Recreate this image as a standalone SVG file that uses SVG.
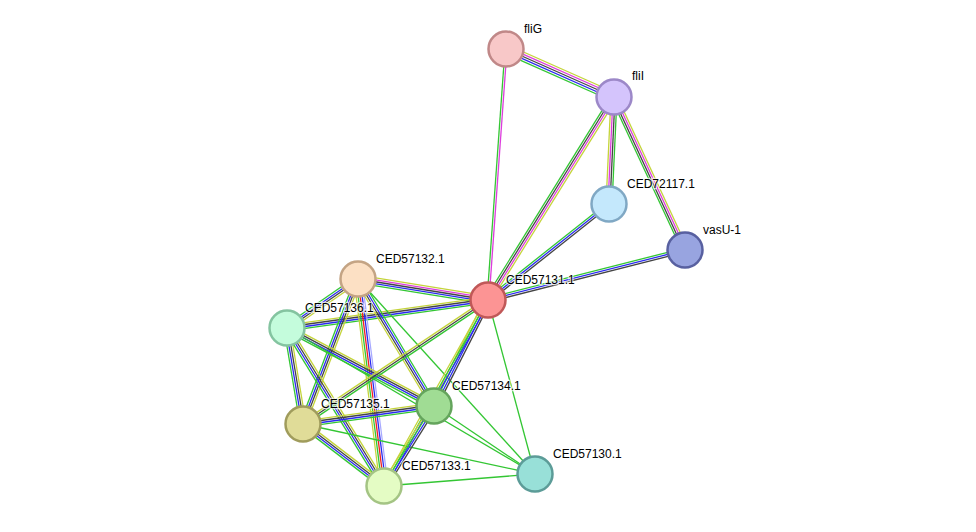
<svg xmlns="http://www.w3.org/2000/svg" width="976" height="532" viewBox="0 0 976 532">
<style>
line{stroke-width:1.3;fill:none}
.g{stroke:#33c633}.y{stroke:#c4d43a}.m{stroke:#dd3cdd}.k{stroke:#444}.b{stroke:#2a2af0}.r{stroke:#f02020}.h{stroke:#a8aaff}
circle{stroke-width:2.5}
text{font-family:"Liberation Sans",Arial,sans-serif;font-size:12px;fill:#000;paint-order:stroke;stroke:#fff;stroke-width:2.5;stroke-opacity:0.7}
</style>
<rect width="976" height="532" fill="#fff"/>
<g id="edges">
<!-- fliG-fliI -->
<line class="y" x1="506" y1="49" x2="614" y2="97" transform="translate(1.79,-4.02)"/>
<line class="m" x1="506" y1="49" x2="614" y2="97" transform="translate(0.89,-2.01)"/>
<line class="k" x1="506" y1="49" x2="614" y2="97"/>
<line class="b" x1="506" y1="49" x2="614" y2="97" transform="translate(-0.89,2.01)"/>
<line class="g" x1="506" y1="49" x2="614" y2="97" transform="translate(-1.79,4.02)"/>
<!-- fliG-A -->
<line class="g" x1="506" y1="49" x2="488" y2="300" transform="translate(-1,0)"/>
<line class="m" x1="506" y1="49" x2="488" y2="300" transform="translate(1,0)"/>
<!-- fliI-A -->
<line class="g" x1="614" y1="97" x2="488" y2="300" transform="translate(-2.55,-1.58)"/>
<line class="k" x1="614" y1="97" x2="488" y2="300" transform="translate(-0.85,-0.53)"/>
<line class="m" x1="614" y1="97" x2="488" y2="300" transform="translate(0.85,0.53)"/>
<line class="y" x1="614" y1="97" x2="488" y2="300" transform="translate(2.55,1.58)"/>
<!-- fliI-X -->
<line class="y" x1="614" y1="97" x2="609" y2="204" transform="translate(-3,-0.14)"/>
<line class="m" x1="614" y1="97" x2="609" y2="204" transform="translate(-1,0)"/>
<line class="k" x1="614" y1="97" x2="609" y2="204" transform="translate(1,0)"/>
<line class="g" x1="614" y1="97" x2="609" y2="204" transform="translate(3,0.14)"/>
<!-- fliI-V -->
<line class="g" x1="614" y1="97" x2="685" y2="250" transform="translate(-2.72,1.26)"/>
<line class="k" x1="614" y1="97" x2="685" y2="250" transform="translate(-0.91,0.42)"/>
<line class="m" x1="614" y1="97" x2="685" y2="250" transform="translate(0.91,-0.42)"/>
<line class="y" x1="614" y1="97" x2="685" y2="250" transform="translate(2.72,-1.26)"/>
<!-- X-A -->
<line class="g" x1="609" y1="204" x2="488" y2="300" transform="translate(-1.24,-1.57)"/>
<line class="b" x1="609" y1="204" x2="488" y2="300"/>
<line class="k" x1="609" y1="204" x2="488" y2="300" transform="translate(1.24,1.57)"/>
<!-- V-A -->
<line class="g" x1="685" y1="250" x2="488" y2="300" transform="translate(-0.49,-1.94)"/>
<line class="b" x1="685" y1="250" x2="488" y2="300"/>
<line class="k" x1="685" y1="250" x2="488" y2="300" transform="translate(0.49,1.94)"/>
<!-- P-A -->
<line class="y" x1="358" y1="279" x2="488" y2="300" transform="translate(0.64,-3.95)"/>
<line class="m" x1="358" y1="279" x2="488" y2="300" transform="translate(0.32,-1.97)"/>
<line class="k" x1="358" y1="279" x2="488" y2="300"/>
<line class="b" x1="358" y1="279" x2="488" y2="300" transform="translate(-0.32,1.97)"/>
<line class="g" x1="358" y1="279" x2="488" y2="300" transform="translate(-0.64,3.95)"/>
<!-- S-A -->
<line class="y" x1="287" y1="328" x2="488" y2="300" transform="translate(-0.41,-2.97)"/>
<line class="k" x1="287" y1="328" x2="488" y2="300" transform="translate(-0.14,-0.99)"/>
<line class="b" x1="287" y1="328" x2="488" y2="300" transform="translate(0.14,0.99)"/>
<line class="g" x1="287" y1="328" x2="488" y2="300" transform="translate(0.41,2.97)"/>
<!-- P-S -->
<line class="g" x1="358" y1="279" x2="287" y2="328" transform="translate(-1.70,-2.47)"/>
<line class="b" x1="358" y1="279" x2="287" y2="328" transform="translate(-0.57,-0.82)"/>
<line class="k" x1="358" y1="279" x2="287" y2="328" transform="translate(0.57,0.82)"/>
<line class="y" x1="358" y1="279" x2="287" y2="328" transform="translate(1.70,2.47)"/>
<!-- P-T -->
<line class="g" x1="358" y1="279" x2="303" y2="424" transform="translate(-2.80,-1.06)"/>
<line class="b" x1="358" y1="279" x2="303" y2="424" transform="translate(-0.93,-0.35)"/>
<line class="k" x1="358" y1="279" x2="303" y2="424" transform="translate(0.93,0.35)"/>
<line class="y" x1="358" y1="279" x2="303" y2="424" transform="translate(2.80,1.06)"/>
<!-- P-Q -->
<line class="y" x1="358" y1="279" x2="384" y2="486" transform="translate(-3.97,0.5)"/>
<line class="g" x1="358" y1="279" x2="384" y2="486" transform="translate(-1.98,0.25)"/>
<line class="r" x1="358" y1="279" x2="384" y2="486"/>
<line class="b" x1="358" y1="279" x2="384" y2="486" transform="translate(1.98,-0.25)"/>
<line class="h" x1="358" y1="279" x2="384" y2="486" transform="translate(3.97,-0.5)"/>
<!-- P-K -->
<line class="y" x1="358" y1="279" x2="434" y2="406" transform="translate(-2.57,1.54)"/>
<line class="k" x1="358" y1="279" x2="434" y2="406" transform="translate(-0.86,0.51)"/>
<line class="b" x1="358" y1="279" x2="434" y2="406" transform="translate(0.86,-0.51)"/>
<line class="g" x1="358" y1="279" x2="434" y2="406" transform="translate(2.57,-1.54)"/>
<!-- P-Z -->
<line class="g" x1="358" y1="279" x2="535" y2="474"/>
<!-- S-K -->
<line class="y" x1="287" y1="328" x2="434" y2="406" transform="translate(1.41,-2.65)"/>
<line class="k" x1="287" y1="328" x2="434" y2="406" transform="translate(0.47,-0.88)"/>
<line class="b" x1="287" y1="328" x2="434" y2="406" transform="translate(-0.47,0.88)"/>
<line class="g" x1="287" y1="328" x2="434" y2="406" transform="translate(-1.41,2.65)"/>
<!-- S-T -->
<line class="g" x1="287" y1="328" x2="303" y2="424" transform="translate(-2.96,0.49)"/>
<line class="b" x1="287" y1="328" x2="303" y2="424" transform="translate(-0.99,0.16)"/>
<line class="k" x1="287" y1="328" x2="303" y2="424" transform="translate(0.99,-0.16)"/>
<line class="y" x1="287" y1="328" x2="303" y2="424" transform="translate(2.96,-0.49)"/>
<!-- S-Q -->
<line class="g" x1="287" y1="328" x2="384" y2="486" transform="translate(-2.56,1.57)"/>
<line class="b" x1="287" y1="328" x2="384" y2="486" transform="translate(-0.85,0.52)"/>
<line class="k" x1="287" y1="328" x2="384" y2="486" transform="translate(0.85,-0.52)"/>
<line class="y" x1="287" y1="328" x2="384" y2="486" transform="translate(2.56,-1.57)"/>
<!-- S-Z -->
<line class="g" x1="287" y1="328" x2="535" y2="474"/>
<!-- A-K -->
<line class="y" x1="488" y1="300" x2="434" y2="406" transform="translate(-2.67,-1.36)"/>
<line class="g" x1="488" y1="300" x2="434" y2="406" transform="translate(-0.89,-0.45)"/>
<line class="b" x1="488" y1="300" x2="434" y2="406" transform="translate(0.89,0.45)"/>
<line class="k" x1="488" y1="300" x2="434" y2="406" transform="translate(2.67,1.36)"/>
<!-- A-T -->
<line class="y" x1="488" y1="300" x2="303" y2="424" transform="translate(-1.11,-1.66)"/>
<line class="k" x1="488" y1="300" x2="303" y2="424"/>
<line class="g" x1="488" y1="300" x2="303" y2="424" transform="translate(1.11,1.66)"/>
<!-- A-Q -->
<line class="y" x1="488" y1="300" x2="384" y2="486" transform="translate(-1.75,-0.98)"/>
<line class="g" x1="488" y1="300" x2="384" y2="486"/>
<line class="b" x1="488" y1="300" x2="384" y2="486" transform="translate(1.75,0.98)"/>
<!-- A-Z -->
<line class="g" x1="488" y1="300" x2="535" y2="474"/>
<!-- T-K -->
<line class="y" x1="303" y1="424" x2="434" y2="406" transform="translate(-0.41,-2.97)"/>
<line class="k" x1="303" y1="424" x2="434" y2="406" transform="translate(-0.14,-0.99)"/>
<line class="b" x1="303" y1="424" x2="434" y2="406" transform="translate(0.14,0.99)"/>
<line class="g" x1="303" y1="424" x2="434" y2="406" transform="translate(0.41,2.97)"/>
<!-- T-Q -->
<line class="y" x1="303" y1="424" x2="384" y2="486" transform="translate(1.82,-2.38)"/>
<line class="k" x1="303" y1="424" x2="384" y2="486" transform="translate(0.61,-0.79)"/>
<line class="b" x1="303" y1="424" x2="384" y2="486" transform="translate(-0.61,0.79)"/>
<line class="g" x1="303" y1="424" x2="384" y2="486" transform="translate(-1.82,2.38)"/>
<!-- T-Z -->
<line class="g" x1="303" y1="424" x2="535" y2="474"/>
<!-- K-Q -->
<line class="y" x1="434" y1="406" x2="384" y2="486" transform="translate(-2.54,-1.59)"/>
<line class="g" x1="434" y1="406" x2="384" y2="486" transform="translate(-0.85,-0.53)"/>
<line class="b" x1="434" y1="406" x2="384" y2="486" transform="translate(0.85,0.53)"/>
<line class="k" x1="434" y1="406" x2="384" y2="486" transform="translate(2.54,1.59)"/>
<!-- K-Z -->
<line class="g" x1="434" y1="406" x2="535" y2="474"/>
<!-- Q-Z -->
<line class="g" x1="384" y1="486" x2="535" y2="474"/>
</g>
<g id="fliG"><circle cx="506" cy="49" r="17.5" fill="#f8c8c8" stroke="#c08888"/><text x="524" y="33">fliG</text></g>
<g id="fliI"><circle cx="614" cy="97" r="17.5" fill="#d4c4fc" stroke="#9c88c8"/><text x="632" y="80">fliI</text></g>
<g id="CED72117.1"><circle cx="609" cy="204" r="17.5" fill="#c4e8fc" stroke="#80a8c4"/><text x="627" y="188">CED72117.1</text></g>
<g id="vasU-1"><circle cx="685" cy="250" r="17.5" fill="#98a4e0" stroke="#5860a0"/><text x="703" y="234">vasU-1</text></g>
<g id="CED57131.1"><circle cx="488" cy="300" r="17.5" fill="#fc9494" stroke="#c05858"/><text x="506" y="284">CED57131.1</text></g>
<g id="CED57132.1"><circle cx="358" cy="279" r="17.5" fill="#fce0c4" stroke="#c4a484"/><text x="376" y="263">CED57132.1</text></g>
<g id="CED57136.1"><circle cx="287" cy="328" r="17.5" fill="#c4fcdc" stroke="#84c4a0"/><text x="305" y="312">CED57136.1</text></g>
<g id="CED57134.1"><circle cx="434" cy="406" r="17.5" fill="#a0dc94" stroke="#64a45c"/><text x="452" y="390">CED57134.1</text></g>
<g id="CED57135.1"><circle cx="303" cy="424" r="17.5" fill="#e0dc98" stroke="#a09c5c"/><text x="321" y="408">CED57135.1</text></g>
<g id="CED57133.1"><circle cx="384" cy="486" r="17.5" fill="#e4fcc4" stroke="#a4c484"/><text x="402" y="470">CED57133.1</text></g>
<g id="CED57130.1"><circle cx="535" cy="474" r="17.5" fill="#98e0d8" stroke="#5c9c98"/><text x="553" y="458">CED57130.1</text></g>
</svg>
